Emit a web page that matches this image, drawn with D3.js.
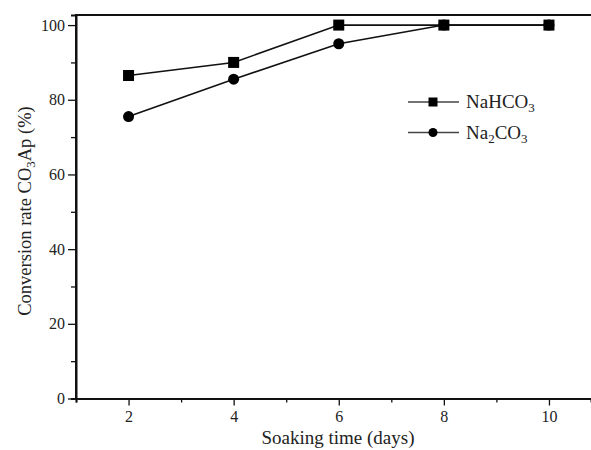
<!DOCTYPE html>
<html>
<head>
<meta charset="utf-8">
<script src="https://cdn.jsdelivr.net/npm/d3@7"></script>
<style>
  body { margin: 0; background: #fff; }
  text { font-family: "Liberation Serif", "Times New Roman", serif; fill: #222; }
</style>
</head>
<body>
<div id="chart"></div>
<script>
// data
const days = [2, 4, 6, 8, 10];
const nahco3 = [86.5, 90, 100, 100, 100];
const na2co3 = [75.5, 85.5, 95, 100, 100];
const seriesNames = ["NaHCO", "Na"];
const xTicks = [2, 4, 6, 8, 10];
const yTicks = [0, 20, 40, 60, 80, 100];

const width = 591, height = 450;
const margin = { top: 15, right: 0, bottom: 52, left: 76 };

const svg = d3.select("#chart").append("svg")
  .attr("width", width)
  .attr("height", height);

const x = d3.scaleLinear().domain([1, 10.8]).range([margin.left, width - margin.right]);
const y = d3.scaleLinear().domain([0, 102.7]).range([height - margin.bottom + 0.5, margin.top]);

// frame top
svg.append("line")
  .attr("x1", margin.left).attr("x2", width)
  .attr("y1", margin.top).attr("y2", margin.top)
  .attr("stroke", "#111").attr("stroke-width", 2);

// x axis
const xAxis = svg.append("g").attr("transform", `translate(0,${y(0)})`);
xAxis.call(d3.axisBottom(x).tickValues(xTicks).tickSize(7).tickSizeOuter(0).tickPadding(5).tickFormat(d3.format("d")));
xAxis.append("g").call(d3.axisBottom(x).tickValues([1, 3, 5, 7, 9]).tickSize(4).tickFormat(""));
xAxis.selectAll(".domain").attr("stroke", "#111").attr("stroke-width", 2);
xAxis.selectAll(".tick line").attr("stroke", "#111").attr("stroke-width", 1.3);
xAxis.selectAll(".tick text").style("font-size", "16px").attr("fill", "#222");
xAxis.select("g .domain").remove();

// y axis
const yAxis = svg.append("g").attr("transform", `translate(${margin.left},0)`);
yAxis.call(d3.axisLeft(y).tickValues(yTicks).tickSize(8).tickSizeOuter(0).tickPadding(3));
yAxis.append("g").call(d3.axisLeft(y).tickValues([10, 30, 50, 70, 90]).tickSize(5).tickFormat(""));
yAxis.selectAll(".domain").attr("stroke", "#111").attr("stroke-width", 2);
yAxis.select("g .domain").remove();
yAxis.selectAll(".tick line").attr("stroke", "#111").attr("stroke-width", 1.3);
yAxis.selectAll(".tick text").style("font-size", "16px").attr("fill", "#222");
svg.append("line")
  .attr("x1", margin.left).attr("x2", margin.left)
  .attr("y1", margin.top - 1).attr("y2", y(0))
  .attr("stroke", "#111").attr("stroke-width", 2);

// axis titles
svg.append("text")
  .attr("x", 338).attr("y", 444)
  .attr("text-anchor", "middle")
  .style("font-size", "19px")
  .text("Soaking time (days)");

const yl = svg.append("text")
  .attr("transform", `translate(31,211) rotate(-90)`)
  .attr("text-anchor", "middle")
  .style("font-size", "18.5px");
yl.append("tspan").text("Conversion rate CO");
yl.append("tspan").attr("dy", 4).style("font-size", "13px").text("3");
yl.append("tspan").attr("dy", -4).text("Ap (%)");

// lines
const line = d3.line().x((d, i) => x(days[i])).y(d => y(d));
[nahco3, na2co3].forEach(s => {
  svg.append("path").datum(s)
    .attr("d", line)
    .attr("fill", "none")
    .attr("stroke", "#111")
    .attr("stroke-width", 1.6);
});

// markers
svg.append("g").selectAll("rect").data(nahco3).join("rect")
  .attr("x", (d, i) => x(days[i]) - 5.5)
  .attr("y", d => y(d) - 5.5)
  .attr("width", 11).attr("height", 11)
  .attr("fill", "#000");

svg.append("g").selectAll("circle").data(na2co3).join("circle")
  .attr("cx", (d, i) => x(days[i]))
  .attr("cy", d => y(d))
  .attr("r", 5.5)
  .attr("fill", "#000");

// legend
const legend = svg.append("g").attr("transform", "translate(408,102)");
["square", "circle"].forEach((sym, i) => {
  const g = legend.append("g").attr("transform", `translate(0,${i * 30.5})`);
  g.append("line").attr("x1", 0).attr("x2", 51).attr("stroke", "#444").attr("stroke-width", 1.4);
  if (sym === "square") {
    g.append("rect").attr("x", 20.5).attr("y", -4.5).attr("width", 9).attr("height", 9).attr("fill", "#000");
  } else {
    g.append("circle").attr("cx", 25).attr("r", 4.5).attr("fill", "#000");
  }
  const t = g.append("text").attr("x", 58).attr("y", 6).style("font-size", "19px");
  if (i === 0) {
    t.append("tspan").text(seriesNames[0]);
    t.append("tspan").attr("dy", 4).style("font-size", "13px").text("3");
  } else {
    t.append("tspan").text(seriesNames[1]);
    t.append("tspan").attr("dy", 4).style("font-size", "13px").text("2");
    t.append("tspan").attr("dy", -4).text("CO");
    t.append("tspan").attr("dy", 4).style("font-size", "13px").text("3");
  }
});
</script>
</body>
</html>
